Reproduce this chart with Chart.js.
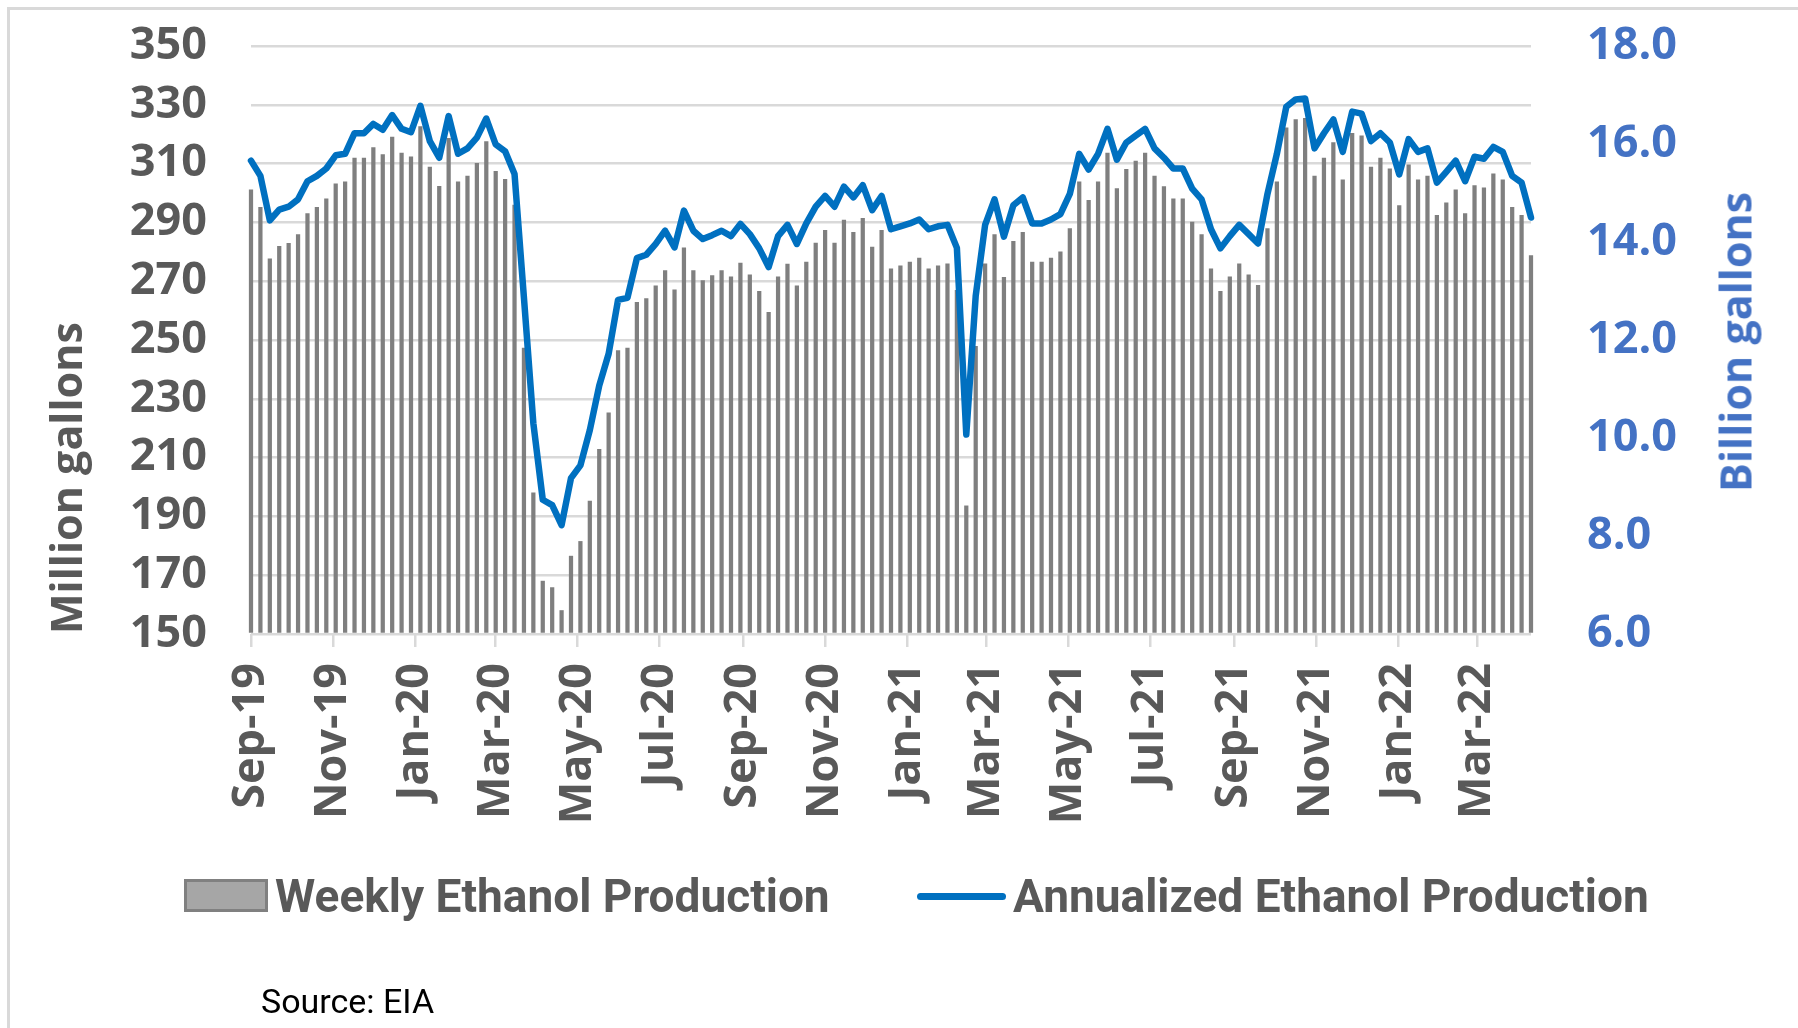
<!DOCTYPE html>
<html>
<head>
<meta charset="utf-8">
<script src="https://cdn.jsdelivr.net/npm/chart.js@4.4.1/dist/chart.umd.min.js"></script>
<style>
  body { margin: 0; background: #fff; }
  #wrap { position: relative; width: 1798px; height: 1028px; overflow: hidden; }
  #frame { position: absolute; left: 7px; top: 7px; right: -10px; bottom: -10px;
           border-top: 3px solid #d9d9d9; border-left: 3px solid #d9d9d9; }
  canvas { position: absolute; left: 0; top: 0; }
  .rtitle { position: absolute; left: 1735px; top: 342px; transform: translate(-50%, -50%) rotate(-90deg);
            font: bold 43px "Open Sans", sans-serif; color: #4472c4; white-space: nowrap; }
  .leg { position: absolute; font: bold 46px Roboto, sans-serif; line-height: 46px; color: #595959; white-space: nowrap; }
  .box { position: absolute; left: 184px; top: 879px; width: 84px; height: 33px; box-sizing: border-box;
         background: #a6a6a6; border: 3px solid #808080; }
  .lin { position: absolute; left: 917px; top: 893px; width: 89px; height: 7px; border-radius: 4px; background: #0070c0; }
  .src { position: absolute; left: 261px; top: 984px; font: 34px Roboto, sans-serif; line-height: 34px; color: #000; }
</style>
</head>
<body>
<div id="wrap">
  <div id="frame"></div>
  <canvas id="chart" width="1798" height="1028"></canvas>
  <div class="rtitle">Billion gallons</div>
  <div class="box"></div>
  <div class="leg" style="left:275px; top:873px;">Weekly Ethanol Production</div>
  <div class="lin"></div>
  <div class="leg" style="left:1013px; top:873px;">Annualized Ethanol Production</div>
  <div class="src">Source: EIA</div>
</div>
<script>
// weekly data, first week starting 2019-09-01
const weekStart = "2019-09-01";

// million gallons per week
const weeklyProduction = [
  301.2, 295.2, 277.7, 282.0, 283.0, 286.0, 293.1, 295.2, 298.1, 303.2,
  303.9, 312.0, 312.0, 315.6, 313.2, 319.1, 313.7, 312.4, 322.7, 308.9,
  302.4, 318.7, 303.9, 305.9, 310.2, 317.6, 307.5, 304.8, 296.0, 247.4,
  198.1, 168.1, 165.9, 158.1, 176.6, 181.6, 195.3, 212.9, 225.3, 246.5,
  247.4, 262.9, 264.2, 268.5, 273.7, 267.2, 281.5, 273.7, 270.3, 272.0,
  273.7, 271.6, 276.3, 272.3, 266.7, 259.5, 271.6, 275.9, 268.5, 276.6,
  283.1, 287.4, 283.1, 290.9, 286.7, 291.5, 281.7, 287.4, 274.3, 275.3,
  276.6, 278.0, 274.3, 275.3, 276.0, 267.0, 193.7, 248.0, 276.0, 286.0,
  271.4, 283.7, 286.7, 276.6, 276.6, 278.0, 280.1, 288.0, 303.9, 297.6,
  303.9, 313.7, 301.6, 308.2, 311.0, 313.7, 305.9, 302.3, 298.1, 298.1,
  290.2, 286.0, 274.3, 266.7, 271.6, 276.0, 272.3, 268.7, 288.0, 303.9,
  322.3, 325.1, 325.5, 305.9, 312.0, 317.3, 304.6, 320.4, 319.6, 308.9,
  312.0, 308.3, 295.8, 309.7, 304.6, 305.9, 292.5, 296.8, 301.2, 293.1,
  302.6, 301.9, 306.6, 304.6, 295.2, 292.5, 278.8
];

// billion gallons per year
const annualizedProduction = [
  15.66, 15.35, 14.44, 14.66, 14.72, 14.87, 15.24, 15.35, 15.50, 15.77,
  15.80, 16.22, 16.22, 16.41, 16.29, 16.59, 16.31, 16.24, 16.78, 16.06,
  15.72, 16.57, 15.80, 15.91, 16.13, 16.52, 15.99, 15.85, 15.39, 12.86,
  10.30, 8.74, 8.63, 8.22, 9.18, 9.44, 10.16, 11.07, 11.72, 12.82,
  12.86, 13.67, 13.74, 13.96, 14.23, 13.89, 14.64, 14.23, 14.06, 14.14,
  14.23, 14.12, 14.37, 14.16, 13.87, 13.49, 14.12, 14.35, 13.96, 14.38,
  14.72, 14.94, 14.72, 15.13, 14.91, 15.16, 14.65, 14.94, 14.26, 14.32,
  14.38, 14.46, 14.26, 14.32, 14.35, 13.88, 10.07, 12.90, 14.35, 14.87,
  14.11, 14.75, 14.91, 14.38, 14.38, 14.46, 14.57, 14.98, 15.80, 15.48,
  15.80, 16.31, 15.68, 16.03, 16.17, 16.31, 15.91, 15.72, 15.50, 15.50,
  15.09, 14.87, 14.26, 13.87, 14.12, 14.35, 14.16, 13.97, 14.98, 15.80,
  16.76, 16.91, 16.93, 15.91, 16.22, 16.50, 15.84, 16.66, 16.62, 16.06,
  16.22, 16.03, 15.38, 16.10, 15.84, 15.91, 15.21, 15.43, 15.66, 15.24,
  15.74, 15.70, 15.94, 15.84, 15.35, 15.21, 14.50
];

const tickDates = ["2019-09-01", "2019-11-01", "2020-01-01", "2020-03-01", "2020-05-01", "2020-07-01",
  "2020-09-01", "2020-11-01", "2021-01-01", "2021-03-01", "2021-05-01", "2021-07-01",
  "2021-09-01", "2021-11-01", "2022-01-01", "2022-03-01"];
const tickLabels = ["Sep-19", "Nov-19", "Jan-20", "Mar-20", "May-20", "Jul-20", "Sep-20", "Nov-20",
  "Jan-21", "Mar-21", "May-21", "Jul-21", "Sep-21", "Nov-21", "Jan-22", "Mar-22"];

const WEEK = 7 * 24 * 3600 * 1000;
const t0 = Date.parse(weekStart);
const tickWeeks = tickDates.map(d => (Date.parse(d) - t0) / WEEK);

const barPts = weeklyProduction.map((v, i) => ({x: i, y: v}));
const linePts = annualizedProduction.map((v, i) => ({x: i, y: v}));

const gray = "#595959";
const gridCol = "#d9d9d9";
const tickFont = {family: "'Open Sans', sans-serif", size: 45, weight: "bold"};

new Chart(document.getElementById("chart"), {
  type: "bar",
  data: {
    datasets: [
      {
        type: "line",
        label: "Annualized Ethanol Production",
        data: linePts,
        yAxisID: "y2",
        borderColor: "#0070c0",
        borderWidth: 6.5,
        borderJoinStyle: "round",
        borderCapStyle: "round",
        pointRadius: 0,
        tension: 0,
        clip: {left: 8, right: 8, top: 10, bottom: 0},
        order: 0
      },
      {
        label: "Weekly Ethanol Production",
        data: barPts,
        yAxisID: "y",
        base: 150,
        backgroundColor: "#7f7f7f",
        barPercentage: 0.45,
        categoryPercentage: 1,
        clip: {left: 5, right: 5, top: 0, bottom: 0},
        order: 1
      }
    ]
  },
  options: {
    responsive: false,
    animation: false,
    layout: {padding: {top: 46, left: 0, right: 0, bottom: 0}},
    plugins: {legend: {display: false}, tooltip: {enabled: false}},
    scales: {
      x: {
        type: "linear",
        min: 0,
        max: weeklyProduction.length - 1,
        offset: false,
        afterBuildTicks: s => { s.ticks = tickWeeks.map(v => ({value: v})); },
        afterFit: s => { s.height = 394; },
        ticks: {
          autoSkip: false,
          maxRotation: 90,
          minRotation: 90,
          padding: 16,
          color: gray,
          font: tickFont,
          callback: (v, i) => tickLabels[i]
        },
        grid: {drawOnChartArea: false, drawTicks: true, tickLength: 13, color: gridCol, lineWidth: 2.5, offset: false},
        border: {display: false}
      },
      y: {
        position: "left",
        min: 150,
        max: 350,
        afterFit: s => { s.width = 251; },
        ticks: {stepSize: 20, autoSkip: false, padding: 0, color: gray, font: tickFont},
        grid: {color: gridCol, lineWidth: 2.5, drawTicks: true, tickLength: 44, tickColor: "rgba(0,0,0,0)"},
        border: {display: false},
        title: {
          display: true,
          text: "Million gallons",
          align: "start",
          color: gray,
          font: {family: "'Open Sans', sans-serif", size: 43, weight: "bold"},
          padding: {top: 44, bottom: 0}
        }
      },
      y2: {
        position: "right",
        min: 6,
        max: 18,
        afterFit: s => { s.width = 267; },
        ticks: {stepSize: 2, autoSkip: false, padding: 0, color: "#4472c4", font: tickFont, callback: v => v.toFixed(1)},
        grid: {drawOnChartArea: false, drawTicks: true, tickLength: 56, tickColor: "rgba(0,0,0,0)"},
        border: {display: false}
      }
    }
  }
});
</script>
</body>
</html>
